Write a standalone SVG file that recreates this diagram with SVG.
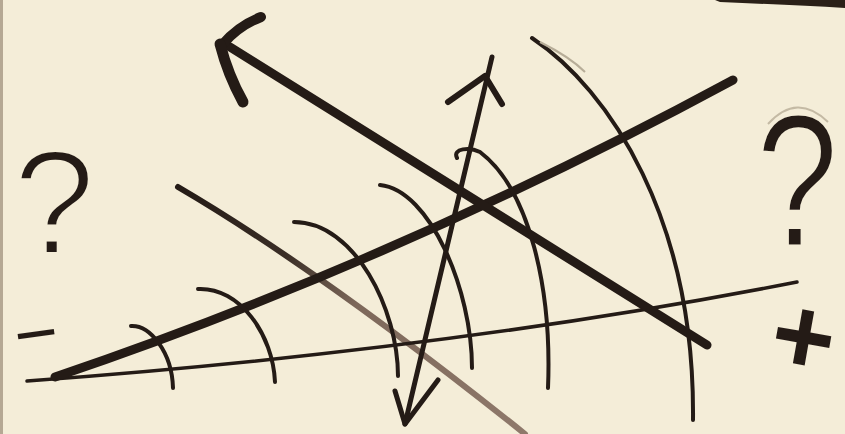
<svg xmlns="http://www.w3.org/2000/svg" width="845" height="434" viewBox="0 0 845 434">
  <style>
    .ink { fill: none; stroke: #241b16; stroke-linecap: round; stroke-linejoin: round; }
    .arc { stroke-width: 4; }
    .sym { font-family: "Liberation Sans", Arial, sans-serif; fill: #241b16; }
    .thin { stroke: #f4edd8; }
  </style>
  <defs>
    <linearGradient id="fade" gradientUnits="userSpaceOnUse" x1="178" y1="187" x2="525" y2="434">
      <stop offset="0" stop-color="#241b16"/>
      <stop offset="0.3" stop-color="#3a2e26"/>
      <stop offset="0.5" stop-color="#7d685a"/>
      <stop offset="1" stop-color="#8f796b"/>
    </linearGradient>
  </defs>
  <rect width="845" height="434" fill="#f4edd8"/>
  <rect x="0" y="0" width="3" height="434" fill="#8a7a68" opacity="0.6"/>
  <path d="M715,0 L845,0 L845,8 Q 790,5 720,2 Z" fill="#2a2018"/>

  <g id="lines">
    <path id="brown-line" d="M178,187 Q 320,270 525,434" fill="none" stroke="url(#fade)" stroke-width="6" stroke-linecap="round"/>
    <path id="thin-ray" class="ink" d="M27,381 Q 450,350 797,282" stroke-width="3.5"/>
    <path id="thick-ray" class="ink" d="M55,377 Q 400,260 733,80" stroke-width="9" stroke-linecap="butt"/>
    <g id="big-arrow">
      <path class="ink" d="M230,47 L707,345" stroke-width="9"/>
      <path class="ink" d="M261,17 Q 238,26 223,44" stroke-width="10"/>
      <path class="ink" d="M220,44 Q 228,75 243,102" stroke-width="11"/>
    </g>
    <g id="double-arrow">
      <path class="ink" d="M492,57 L405,424" stroke-width="5"/>
      <path class="ink" d="M448,102 L485,76 L502,104" stroke-width="6"/>
      <path class="ink" d="M395,391 L405,424 L438,380" stroke-width="5"/>
    </g>
  </g>

  <g id="arcs">
    <path class="ink arc" d="M131,326 C 150,325 172,352 173,388"/>
    <path class="ink arc" d="M198,289 C 240,287 273,335 275,382"/>
    <path class="ink arc" d="M294,222 C 355,222 398,310 398,376"/>
    <path class="ink arc" d="M380,185 C 430,190 472,290 472,368"/>
    <path class="ink arc" d="M457,158 C 452,148 470,147 480,152 C 530,190 552,290 548,388"/>
    <path class="ink arc" d="M532,38 C 610,90 695,220 693,420"/>
    <path d="M540,42 C 560,52 575,62 585,72" fill="none" stroke="#b7ad98" stroke-width="2"/>
  </g>

  <g id="symbols">
    <text class="sym thin" x="13" y="254" font-size="148" stroke-width="4">?</text>
    <path d="M768,124 Q 797,92 828,122" fill="none" stroke="#c4baa4" stroke-width="2"/>
    <g transform="translate(756,246) scale(0.78,1)">
      <text class="sym thin" x="0" y="0" font-size="190" stroke-width="3">?</text>
    </g>
    <g transform="translate(14,349) rotate(-8) scale(2.4,0.75)">
      <text class="sym" x="0" y="0" font-size="60" font-weight="bold">-</text>
    </g>
    <g transform="rotate(10 808 338)">
      <text class="sym" x="772" y="374" font-size="108" font-weight="bold">+</text>
    </g>
  </g>
</svg>
